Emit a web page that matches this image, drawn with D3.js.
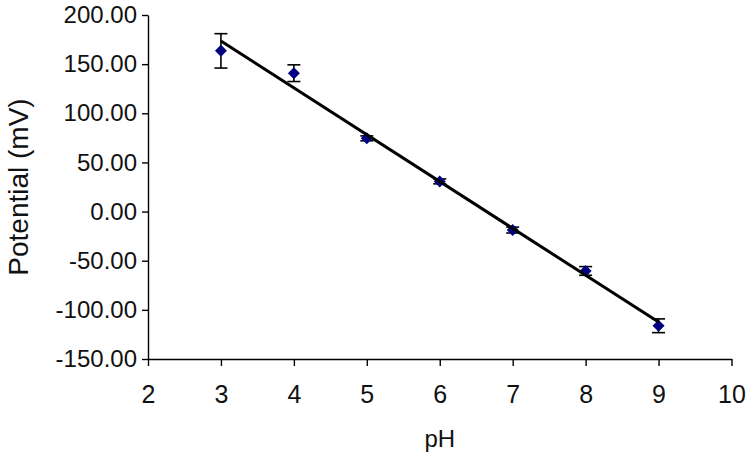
<!DOCTYPE html>
<html>
<head>
<meta charset="utf-8">
<script src="https://cdn.jsdelivr.net/npm/d3@7"></script>
<style>
  html, body { margin: 0; padding: 0; background: #fff; }
  svg { display: block; font-family: "Liberation Sans", Arial, sans-serif; }
</style>
</head>
<body>
<svg id="chart" width="750" height="458"></svg>
<script>
// ---- data ----
const pH = [3, 4, 5, 6, 7, 8, 9];
const potential = [163.5, 140.8, 74.5, 30.7, -18.8, -60.4, -116.2];
const errors = [17.5, 8.5, 2.5, 2.5, 3.0, 4.4, 7.0];
const xTicks = [2, 3, 4, 5, 6, 7, 8, 9, 10];
const yTicks = [-150, -100, -50, 0, 50, 100, 150, 200];

(function () {
const svg = d3.select("#chart");
const mLeft = 148, mRight = 731.5, mTop = 15, mBottom = 359;

const x = d3.scaleLinear().domain([2, 10]).range([mLeft, mRight]);
const y = d3.scaleLinear().domain([-150, 200]).range([mBottom, mTop]);

// axes
const xAxis = d3.axisBottom(x).tickValues(xTicks).tickSize(7).tickSizeOuter(0).tickPadding(19)
  .tickFormat(d3.format("d"));
const yAxis = d3.axisLeft(y).tickValues(yTicks).tickSize(6).tickSizeOuter(0).tickPadding(11)
  .tickFormat(d => d.toFixed(2));

const gx = svg.append("g").attr("transform", `translate(0,${mBottom})`).call(xAxis);
const gy = svg.append("g").attr("transform", `translate(${mLeft},0)`).call(yAxis);
[gx, gy].forEach(g => {
  g.selectAll("path.domain").attr("stroke", "#000").attr("stroke-width", 1.4);
  g.selectAll(".tick line").attr("stroke", "#000").attr("stroke-width", 1.4);
  g.selectAll(".tick text").attr("fill", "#111")
    .style("font-family", "'Liberation Sans', Arial, sans-serif");
});
gx.selectAll(".tick text").style("font-size", "25px");
gy.selectAll(".tick text").style("font-size", "24px").attr("x", -11);

// axis titles
svg.append("text")
  .attr("x", (mLeft + mRight) / 2).attr("y", 447)
  .attr("text-anchor", "middle").attr("fill", "#111")
  .style("font-size", "24px").text("pH");
svg.append("text")
  .attr("transform", `translate(28,${(mTop + mBottom) / 2}) rotate(-90)`)
  .attr("text-anchor", "middle").attr("fill", "#111")
  .style("font-size", "28px").text("Potential (mV)");

// error bars
const data = pH.map((p, i) => ({ x: p, y: potential[i], e: errors[i] }));
const eb = svg.append("g").attr("stroke", "#000").attr("stroke-width", 1.6);
data.forEach(d => {
  const cx = x(d.x);
  eb.append("line").attr("x1", cx).attr("x2", cx).attr("y1", y(d.y + d.e)).attr("y2", y(d.y - d.e));
  eb.append("line").attr("x1", cx - 6.5).attr("x2", cx + 6.5).attr("y1", y(d.y + d.e)).attr("y2", y(d.y + d.e));
  eb.append("line").attr("x1", cx - 6.5).attr("x2", cx + 6.5).attr("y1", y(d.y - d.e)).attr("y2", y(d.y - d.e));
});

// markers
svg.append("g").selectAll("path").data(data).join("path")
  .attr("transform", d => `translate(${x(d.x)},${y(d.y)})`)
  .attr("d", "M0,-6L6,0L0,6L-6,0Z")
  .attr("fill", "#000080");

// linear trendline (least squares through the points)
const mx = d3.mean(pH), my = d3.mean(potential);
const slope = d3.sum(pH, (p, i) => (p - mx) * (potential[i] - my)) / d3.sum(pH, p => (p - mx) ** 2);
const icpt = my - slope * mx;
const x0 = d3.min(pH), x1 = d3.max(pH);
svg.append("line")
  .attr("x1", x(x0)).attr("y1", y(icpt + slope * x0))
  .attr("x2", x(x1)).attr("y2", y(icpt + slope * x1))
  .attr("stroke", "#000").attr("stroke-width", 3);
})();
</script>
</body>
</html>
